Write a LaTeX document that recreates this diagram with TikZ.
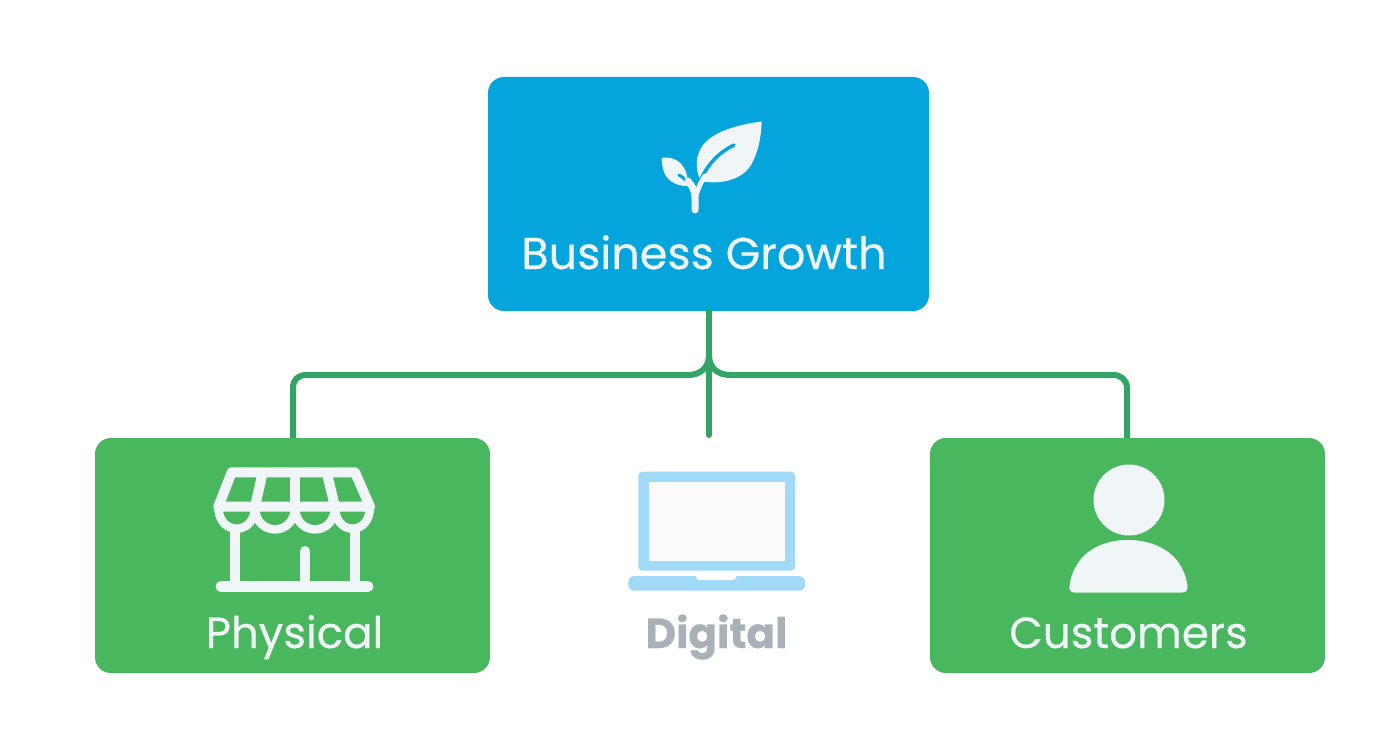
\documentclass[tikz,border=0pt]{standalone}
\usepackage{fontspec}
\setmainfont[FakeBold=0.5]{Poppins}
\definecolor{topblue}{HTML}{04A5DD}
\definecolor{boxgreen}{HTML}{49B75E}
\definecolor{linegreen}{HTML}{32A466}
\definecolor{iconwhite}{HTML}{F0F5F8}
\definecolor{laptopblue}{HTML}{A0DAF6}
\definecolor{digitalgrey}{HTML}{A9B1B8}
\definecolor{screenwhite}{HTML}{FBFBFC}
\tikzset{
  card/.style={rounded corners=16pt,minimum height=235pt,inner sep=0pt},
  caption/.style={anchor=base,inner sep=0pt,font=\fontsize{43.5}{50}\selectfont,text=iconwhite},
  link/.style={draw=linegreen,line width=6pt},
  storeline/.style={draw=iconwhite,line width=10pt,line join=round},
}
\begin{document}
\begin{tikzpicture}[x=1pt,y=-1pt]
\useasboundingbox (0,0) rectangle (1392,752);
\fill[white] (0,0) rectangle (1392,752);
% boxes
\node[card,fill=topblue,minimum width=441pt,minimum height=234pt] (growth) at (708.5,194) {};
\node[card,fill=boxgreen,minimum width=395pt] (physical) at (292.5,555.5) {};
\node[card,fill=boxgreen,minimum width=395pt] (customers) at (1127.5,555.5) {};
% labels
\node[caption,font=\fontsize{44.5}{50}\selectfont] (growthlabel) at (704,269) {Business Growth};
\node[caption] (physicallabel) at (294.5,648) {Physical};
\node[caption] (customerslabel) at (1128.5,648) {Customers};
\node[caption,font=\fontsize{42}{50}\selectfont\bfseries,text=digitalgrey] (digitallabel) at (716.5,648) {Digital};
% connectors
\coordinate (digitalend) at (709,435);
\coordinate (branch) at (709,355);
\draw[link,line cap=round] (growth.south -| branch) -- (digitalend);
\draw[link] (branch) .. controls (709,368) and (700,375) .. (688,375)
  -- (306,375) .. controls (298,375) and (293,380) .. (293,388) -- (physical.north -| 293,0);
\draw[link] (branch) .. controls (709,368) and (718,375) .. (730,375)
  -- (1113,375) .. controls (1121,375) and (1127,380) .. (1127,388) -- (customers.north -| 1127,0);
% plant
\fill[iconwhite] (761.7,121.5) .. controls (735,125) and (708,133) .. (700,150)
  .. controls (695,160) and (696,172) .. (701,181)
  .. controls (720,185) and (742,180) .. (751,165)
  .. controls (758,153) and (761,138) .. (761.7,121.5) -- cycle;
\fill[iconwhite] (661.7,158) .. controls (670,156) and (680,160) .. (684,168)
  .. controls (688,175) and (688,180) .. (687,186)
  .. controls (675,186) and (667,180) .. (664,172)
  .. controls (662,167) and (662,162) .. (661.7,158) -- cycle;
\draw[topblue,line width=3.5pt,line cap=round] (734,145) .. controls (718,153) and (706,165) .. (697,188);
\draw[topblue,line width=3pt,line cap=round] (679,175) .. controls (685,178) and (688,183) .. (690,188);
\draw[iconwhite,line width=7pt,line cap=round] (695,210) -- (695,198) .. controls (695,190) and (692,186) .. (688,181);
\draw[iconwhite,line width=5pt,line cap=round] (695,200) .. controls (697,190) and (701,182) .. (705,176);
% store
\draw[storeline,fill=none] (218.3,506.7) -- (231.7,472.3) -- (355,472.3) -- (370,506.7) -- cycle;
\draw[storeline] (262.7,472.3) -- (255,506.7);
\draw[storeline] (295,472.3) -- (295,506.7);
\draw[storeline] (326.7,472.3) -- (335,506.7);
\draw[storeline,line width=8.5pt] (218.3,506.7) .. controls (218.3,536) and (255,536) .. (255,506.7)
  .. controls (255,537) and (295,537) .. (295,506.7)
  .. controls (295,537) and (335,537) .. (335,506.7)
  .. controls (335,536) and (370,536) .. (370,506.7);
\draw[storeline] (234.5,530) -- (234.5,585);
\draw[storeline] (355,530) -- (355,585);
\draw[storeline,line cap=round] (305,551) -- (305,585);
\draw[iconwhite,line width=11pt,line cap=round] (221,586.5) -- (368,586.5);
% laptop
\fill[laptopblue,rounded corners=4pt] (638.3,471.7) rectangle (795,570.7);
\fill[screenwhite] (649,481.7) rectangle (785,560.7);
\fill[laptopblue,rounded corners=6pt] (628.3,576) -- (805,576) -- (805,590.7) -- (628.3,590.7) -- cycle;
\fill[white] (696,575.5) -- (737,575.5) -- (735,579) .. controls (734,580) and (733,580) .. (732,580) -- (701,580) .. controls (699,580) and (698,580) .. (697,579) -- cycle;
% person
\fill[iconwhite] (1129,500) circle[radius=35.5];
\fill[iconwhite] (1075,592.5) .. controls (1071,592.5) and (1068.5,590) .. (1069.5,586)
  .. controls (1073,558) and (1095,540) .. (1128,540)
  .. controls (1161,540) and (1184,558) .. (1187.5,586)
  .. controls (1188,590) and (1186,592.5) .. (1182,592.5) -- cycle;
\end{tikzpicture}
\end{document}
